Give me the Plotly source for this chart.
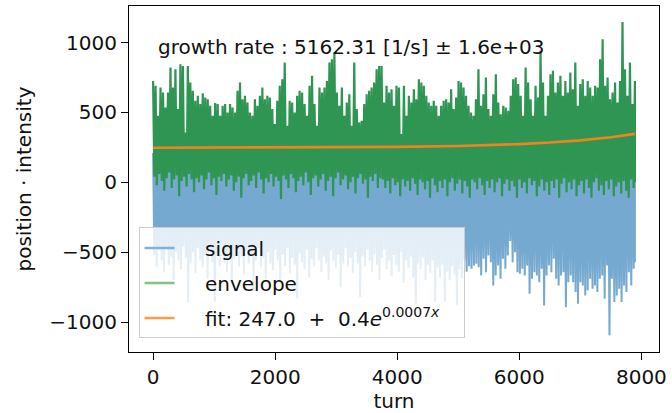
import numpy as np
import plotly.graph_objects as go

# ---------------- data ----------------
N_TURNS = 7894

# envelope: local maxima / minima per ~40-turn column
env_hi = [726,691,476,679,643,536,643,822,679,810,
          524,845,833,357,833,714,655,583,619,560,
          638,607,595,548,476,567,560,476,548,560,
          500,560,536,500,655,714,595,619,572,500,
          476,595,548,619,679,595,619,607,524,417,
          583,691,738,857,405,583,572,500,619,655,
          643,560,476,691,762,560,405,679,643,679,
          726,857,881,929,643,548,679,476,572,631,
          405,857,524,429,441,560,631,655,679,714,
          810,833,
          833,572,691,643,667,548,691,679,345,691,
          476,619,572,667,595,738,714,691,619,572,
          548,583,548,476,548,583,595,572,667,524,
          607,726,714,679,619,548,500,476,595,810,
          548,631,750,524,476,631,774,572,488,548,
          536,512,619,738,750,703,619,476,822,714,
          595,476,691,607,941,714,476,619,774,798,
          643,714,762,619,726,643,786,667,857,548,
          703,738,619,726,679,619,691,679,881,1024,
          691,750,595,643,714,572,726,1148,810,
          620,857,560,726]

env_lo = [40,-20,60,10,-60,30,70,-40,20,50,
          -100,10,40,-30,60,20,-70,30,0,50,
          -50,20,70,-20,30,-90,40,10,60,-30,
          20,50,-60,0,40,-110,30,60,-20,10,
          50,-40,70,20,-80,30,0,60,-30,40,
          10,-120,50,20,-40,60,30,-70,10,40,
          -20,70,0,-90,30,50,-30,20,60,-60,
          10,40,-100,30,70,-20,20,50,-50,0,
          40,-80,30,60,-10,20,-110,40,10,60,
          -40,30,
          20,-40,10,-80,30,-20,0,-100,20,-30,
          10,-60,30,-10,-90,20,0,-50,10,-110,
          30,-20,-70,10,-40,20,-100,0,30,-60,
          -10,20,-80,10,-30,-110,20,0,-50,30,
          -20,-90,10,-40,20,-70,0,30,-100,-10,
          20,-60,10,-30,-110,20,-40,0,-80,30,
          -20,10,-100,-30,20,-60,0,-90,10,-40,
          20,-110,-10,30,-70,0,-50,20,-100,-20,
          10,-80,20,-40,-110,0,30,-60,-20,-90,
          10,-50,20,-100,-30,0,-80,10,-60,-110,
          20,-40,0]

# signal: local maxima / minima per ~40-turn column
sig_lo = [-520,-610,-480,-560,-640,-470,-590,-530,-700,-500,
          -560,-620,-460,-540,-860,-580,-500,-650,-470,-560,
          -610,-520,-690,-480,-570,-855,-530,-600,-460,-580,
          -640,-500,-720,-550,-470,-600,-530,-660,-490,-580,
          -520,-780,-560,-470,-610,-540,-690,-500,-580,-630,
          -480,-560,-720,-520,-600,-470,-650,-540,-590,-830,
          -510,-570,-620,-480,-680,-550,-600,-470,-560,-640,
          -530,-580,-700,-490,-560,-610,-520,-750,-580,-470,
          -600,-540,-650,-500,-580,-820,-530,-600,-480,-560,
          -640,-510,-590,-700,-540,-480,-620,-560,-670,-520,
          -590,-640,-500,-720,-560,-610,-530,-680,-870,-580,
          -620,-540,-700,-590,-650,-560,-860,-610,-680,-590,
          -850,-640,-700,-600,-660,-880,-620,-690,-560,-640,
          -600,
          -619,-595,-583,-607,-666,-547,-643,-523,-571,-738,
          -666,-595,-690,-547,-619,-523,-420,-571,-500,-643,
          -654,-619,-666,-595,-797,-690,-643,-666,-714,-619,
          -881,-666,-595,-643,-547,-690,-738,-666,-643,-893,
          -714,-666,-714,-785,-869,-714,-738,-809,-773,-690,
          -762,-738,-785,-690,-666,-833,-595,-1095,-690,-857,
          -809,-762,-857,-738,-785,-643,-738,-619,-571]

sig_hi = [210,340,150,280,390,180,260,320,140,300,
          250,380,170,290,220,350,130,270,310,190,
          360,240,160,330,280,200,370,150,260,300,
          180,320,240,390,140,280,210,350,170,290,
          330,160,270,230,380,190,310,250,140,360,
          220,300,180,340,260,150,390,210,280,170,
          310,240,370,130,290,200,350,260,180,320,
          160,280,230,380,190,340,250,140,300,270,
          350,200,320,170,260,390,220,290,150,330,
          240,180,360,280,210,310,160,370,230,290,
          190,340,260,150,320,240,380,200,270,170,
          300,230,350,180,290,140,330,250,210,360,
          270,160,310,240,380,200,280,190,340,220,
          150,290,230,360,170,320,260,390,210,300,
          340,200,280,160,310,250,180,370,240,290,
          220,360,190,300,140,330,270,210,350,180,
          290,240,390,170,260,320,150,280,230,370,
          200,330,250,180,350,220,310,160,290,240,
          380,170,270,320,200,290,240,360,190,310,
          260,210,340,150,300,230,370,180,280,330]

# exponential fit, values
fit_x = [0, 1000, 2000, 3000, 4000, 5000, 5500, 6000, 6500, 7000, 7500, 7894]
fit_y = [247.4, 247.8, 248.6, 250.3, 253.6, 260.2, 265.9, 273.7, 284.8, 300.7, 323.2, 347.0]

x_ticks = [0, 2000, 4000, 6000, 8000]
y_ticks = [-1000, -500, 0, 500, 1000]
y_tick_text = ["\u22121000", "\u2212500", "0", "500", "1000"]

annotation_text = "growth rate : 5162.31 [1/s] \u00b1 1.6e+03"
legend_names = ["signal", "envelope",
                "fit: 247.0\u00a0\u00a0+\u00a0\u00a00.4<i>e</i><sup>0.0007<i>x</i></sup>\u00a0\u00a0\u00a0"]


def zigzag(hi, lo):
    """interleave column maxima and minima along the turn axis"""
    n = len(hi)
    t = np.linspace(0, N_TURNS, n)
    half = (t[1] - t[0]) / 2.0
    xs, ys = [], []
    for i in range(n):
        xs += [t[i], min(t[i] + half, N_TURNS)]
        ys += [hi[i], lo[i]]
    return xs, ys


sx, sy = zigzag(sig_hi, sig_lo)
ex, ey = zigzag(env_hi, env_lo)

FONT = "DejaVu Sans"
BLUE = "#75a9cf"
GREEN = "#2f9553"
ORANGE = "#ee8420"
PAD = "\u00a0\u00a0\u00a0\u00a0"

fig = go.Figure()
fig.add_trace(go.Scatter(x=sx, y=sy, mode="lines", line=dict(color=BLUE, width=2),
                         showlegend=False, hoverinfo="skip"))
fig.add_trace(go.Scatter(x=ex, y=ey, mode="lines", line=dict(color=GREEN, width=2.2),
                         showlegend=False, hoverinfo="skip"))
fig.add_trace(go.Scatter(x=fit_x, y=fit_y, mode="lines", line=dict(color=ORANGE, width=2.6),
                         showlegend=False, hoverinfo="skip"))

# legend entries
legend_colors = ["#7eb2d8", "#80c480", "#ff9a4a"]
for i, (nm, col) in enumerate(zip(legend_names, legend_colors)):
    fig.add_trace(go.Scatter(x=[None], y=[None], mode="lines", name=PAD + nm,
                             line=dict(color=col, width=2.5), legendgroup="g%d" % i))

fig.add_annotation(x=0.05, y=0.882, xref="paper", yref="paper", xanchor="left",
                   yanchor="middle", text=annotation_text, showarrow=False,
                   font=dict(family=FONT, size=20, color="#111"))

axis_common = dict(showline=True, mirror=True, linecolor="black", linewidth=1.2,
                   ticks="outside", ticklen=7, tickwidth=1.2, tickcolor="black",
                   showgrid=False, zeroline=False,
                   tickfont=dict(family=FONT, size=20, color="#111"))

fig.update_layout(
    width=672, height=413,
    margin=dict(l=129, r=10, t=5, b=61),
    paper_bgcolor="white", plot_bgcolor="white",
    font=dict(family=FONT, size=20, color="#111"),
    xaxis=dict(range=[-394.7, 8288.7], tickvals=x_ticks,
               title=dict(text="turn", font=dict(family=FONT, size=20), standoff=4),
               **axis_common),
    yaxis=dict(range=[-1214, 1262], tickvals=y_ticks, ticktext=y_tick_text,
               title=dict(text="position \u00b7 intensity", font=dict(family=FONT, size=20), standoff=12),
               **axis_common),
    legend=dict(x=0.018, y=0.36, xanchor="left", yanchor="top",
                bgcolor="rgba(255,255,255,0.8)", bordercolor="#cccccc", borderwidth=1,
                font=dict(family=FONT, size=20, color="#111"),
                traceorder="grouped", tracegroupgap=6),
)

fig.write_html("out.html")
